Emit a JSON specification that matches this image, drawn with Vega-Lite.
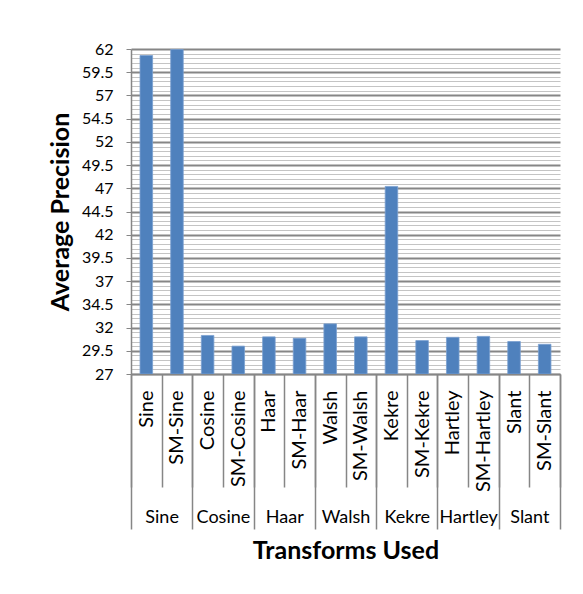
{
  "$schema": "https://vega.github.io/schema/vega-lite/v6.json",
  "width": 429,
  "height": 325,
  "autosize": "none",
  "padding": {"left": 131, "top": 49, "right": 23, "bottom": 220},
  "background": "white",
  "config": {"view": {"stroke": null}, "font": "Lato"},
  "layer": [
    {
      "data": {
        "values": [
          {"transform": "Sine", "group": "Sine", "precision": 61.3},
          {"transform": "SM-Sine", "group": "Sine", "precision": 61.95},
          {"transform": "Cosine", "group": "Cosine", "precision": 31.15},
          {"transform": "SM-Cosine", "group": "Cosine", "precision": 30.0},
          {"transform": "Haar", "group": "Haar", "precision": 31.0},
          {"transform": "SM-Haar", "group": "Haar", "precision": 30.85},
          {"transform": "Walsh", "group": "Walsh", "precision": 32.4},
          {"transform": "SM-Walsh", "group": "Walsh", "precision": 31.0},
          {"transform": "Kekre", "group": "Kekre", "precision": 47.2},
          {"transform": "SM-Kekre", "group": "Kekre", "precision": 30.6},
          {"transform": "Hartley", "group": "Hartley", "precision": 30.95},
          {"transform": "SM-Hartley", "group": "Hartley", "precision": 31.05},
          {"transform": "Slant", "group": "Slant", "precision": 30.5},
          {"transform": "SM-Slant", "group": "Slant", "precision": 30.2}
        ]
      },
      "mark": {"type": "bar", "width": {"band": 0.41}, "color": "#4f81bd", "stroke": "#7a9fd0", "strokeWidth": 0.8, "clip": true},
      "encoding": {
        "x": {
          "field": "transform",
          "type": "nominal",
          "sort": null,
          "scale": {"paddingInner": 0, "paddingOuter": 0},
          "axis": {
            "orient": "bottom",
            "title": null,
            "labelAngle": 270,
            "labelAlign": "right",
            "labelBaseline": "middle",
            "labelFontSize": 20,
            "labelColor": "black",
            "labelPadding": -97,
            "tickBand": "extent",
            "tickSize": 113,
            "tickColor": "#868686",
            "tickWidth": 1.5,
            "domainColor": "#868686",
            "domainWidth": 1.5
          }
        },
        "y": {
          "field": "precision",
          "type": "quantitative",
          "scale": {"domain": [27, 62], "nice": false, "zero": false, "clamp": true},
          "axis": {
            "orient": "left",
            "title": "Average Precision",
            "titleFontSize": 25,
            "titleFontWeight": "bold",
            "titleColor": "black",
            "titlePadding": 8,
            "values": [27,27.5,28,28.5,29,29.5,30,30.5,31,31.5,32,32.5,33,33.5,34,34.5,35,35.5,36,36.5,37,37.5,38,38.5,39,39.5,40,40.5,41,41.5,42,42.5,43,43.5,44,44.5,45,45.5,46,46.5,47,47.5,48,48.5,49,49.5,50,50.5,51,51.5,52,52.5,53,53.5,54,54.5,55,55.5,56,56.5,57,57.5,58,58.5,59,59.5,60,60.5,61,61.5,62],
            "labelExpr": "(datum.value - 27) % 2.5 === 0 ? '' + datum.value : ''",
            "labelFontSize": 16,
            "labelColor": "black",
            "labelPadding": 13,
            "tickSize": 5,
            "tickColor": "#868686",
            "tickOpacity": {"condition": {"test": "(datum.value - 27) % 2.5 === 0", "value": 1}, "value": 0},
            "domainColor": "#868686",
            "domainWidth": 1.5,
            "grid": true,
            "gridColor": {"condition": {"test": "(datum.value - 27) % 2.5 === 0", "value": "#868686"}, "value": "#c4c4c4"},
            "gridWidth": {"condition": {"test": "(datum.value - 27) % 2.5 === 0", "value": 2}, "value": 1},
            "gridOpacity": 1
          }
        }
      }
    },
    {
      "data": {
        "values": [
          {"group": "Sine"},
          {"group": "Cosine"},
          {"group": "Haar"},
          {"group": "Walsh"},
          {"group": "Kekre"},
          {"group": "Hartley"},
          {"group": "Slant"}
        ]
      },
      "mark": {"type": "text", "text": " "},
      "encoding": {
        "x": {
          "field": "group",
          "type": "nominal",
          "sort": null,
          "scale": {"paddingInner": 0, "paddingOuter": 0},
          "axis": {
            "orient": "bottom",
            "title": "Transforms Used",
            "titleFontSize": 25,
            "titleFontWeight": "bold",
            "titleColor": "black",
            "titlePadding": 9,
            "domain": false,
            "labelAngle": 0,
            "labelFontSize": 18,
            "labelColor": "black",
            "labelPadding": -21,
            "tickBand": "extent",
            "tickSize": 155,
            "tickColor": "#868686",
            "tickWidth": 1.5
          }
        }
      }
    }
  ],
  "resolve": {"scale": {"x": "independent"}, "axis": {"x": "independent"}}
}
